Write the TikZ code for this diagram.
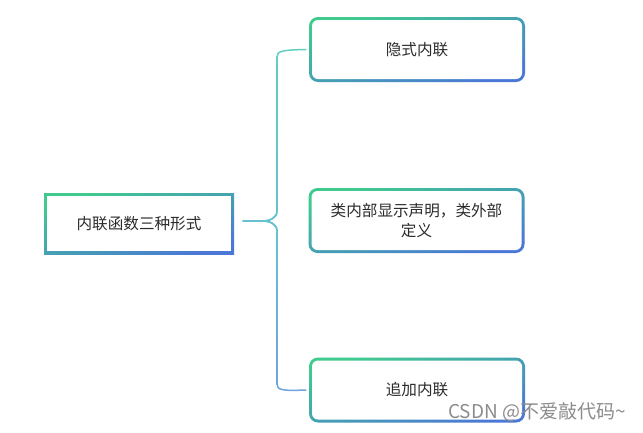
\documentclass[tikz,border=0pt]{standalone}
\usepackage{fontspec}
\newfontfamily\cjk{Noto Sans CJK SC}
\definecolor{bgreen}{HTML}{3FCB8E}
\definecolor{bteal}{HTML}{45B9C2}
\definecolor{bblue}{HTML}{4B78D6}
\definecolor{ctop}{HTML}{5FD0C2}
\definecolor{cmid}{HTML}{64C3CF}
\definecolor{cbot}{HTML}{6FA3E0}
\definecolor{txt}{HTML}{2B2B2B}
\tikzset{
  gradbox/.style={shade, top color=bgreen, middle color=bteal, bottom color=bblue,
    inner sep=0pt, align=center, text=txt,
    font=\cjk\fontsize{15.6}{20}\selectfont},
  rootbox/.style={gradbox, shading angle=17.8, minimum width=190pt, minimum height=61pt,
    path picture={\fill[white] ([shift={(3pt,-3pt)}]path picture bounding box.north west)
      rectangle ([shift={(-3pt,3pt)}]path picture bounding box.south east);}},
  childbox/.style={gradbox, shading angle=16.7, rounded corners=9pt, minimum width=216pt, minimum height=65pt,
    path picture={\fill[white, rounded corners=6pt] ([shift={(3pt,-3pt)}]path picture bounding box.north west)
      rectangle ([shift={(-3pt,3pt)}]path picture bounding box.south east);}},
  conn/.style={line width=1.5pt, line cap=round, line join=round},
}
\begin{document}
\begin{tikzpicture}[x=1pt,y=-1pt]
\useasboundingbox[fill=white] (0,0) rectangle (643,432);
\node[rootbox] (root) at (139,223.5) {内联函数三种形式};
\node[childbox] (c1) at (417,49.5) {隐式内联};
\node[childbox] (c2) at (416.5,220.5) {类内部显示声明，类外部\\定义};
\node[childbox] (c3) at (417,390) {追加内联};
\coordinate (j) at ([shift={(9pt,2.5pt)}]root.east);
% branches
\draw[conn, ctop] (j) -- (262,221) .. controls (270,221) and (277,218) .. (277,211)
  -- (277,57) .. controls (277,51) and (282,50) .. ([xshift=-3pt]c1.west);
\draw[conn, cbot] (j) -- (262,221) .. controls (270,221) and (277,224) .. (277,231)
  -- (277,384) .. controls (277,390) and (282,391) .. ([xshift=-3pt]c3.west);
% gradient overlay on spine
\foreach \i in {0,...,15} {
  \pgfmathsetmacro{\ya}{57+\i*9.625}
  \pgfmathsetmacro{\yb}{57+(\i+1)*9.625}
  \pgfmathtruncatemacro{\p}{100-\i*100/15}
  \draw[conn, color=ctop!\p!cmid] (277,\ya) -- (277,\yb);
}
\foreach \i in {0,...,15} {
  \pgfmathsetmacro{\ya}{231+\i*9.5625}
  \pgfmathsetmacro{\yb}{231+(\i+1)*9.5625}
  \pgfmathtruncatemacro{\p}{100-\i*100/15}
  \draw[conn, color=cmid!\p!cbot] (277,\ya) -- (277,\yb);
}
\draw[conn, cmid] (j) -- (262,221) .. controls (270,221) and (277,218) .. (277,211);
\draw[conn, cmid] (262,221) .. controls (270,221) and (277,224) .. (277,231);
\node[font=\cjk\fontsize{19}{20}\selectfont, text=black!45, anchor=center] (wm) at (537,412) {CSDN @不爱敲代码\textasciitilde};
\end{tikzpicture}
\end{document}
